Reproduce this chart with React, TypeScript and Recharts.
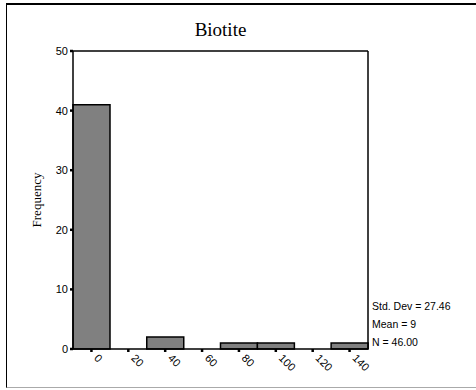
import { BarChart, Bar, XAxis, YAxis } from "recharts";

const categories = ["0", "20", "40", "60", "80", "100", "120", "140"];
const frequencies = [41, 0, 2, 0, 1, 1, 0, 1];
const yTicks = [0, 10, 20, 30, 40, 50];
const stats = ["Std. Dev = 27.46", "Mean = 9", "N = 46.00"];

const data = categories.map((c, i) => ({ bin: c, count: frequencies[i] }));

const sans = "'Liberation Sans', Arial, sans-serif";
const serif = "'Liberation Serif', 'Times New Roman', serif";

function XTick({ x, y, payload }: any) {
  return (
    <g transform={`translate(${x + 5},${y + 2}) rotate(45)`}>
      <text x={0} y={0} textAnchor="start" dominantBaseline="central" fontSize={11} fontFamily={sans} fill="#000">
        {payload.value}
      </text>
    </g>
  );
}

export default function App() {
  return (
    <div style={{ position: "absolute", left: 0, top: 0, width: 476, height: 390, background: "#fff" }}>
      <div
        style={{
          position: "absolute",
          left: 6,
          top: 3,
          width: 470,
          height: 385,
          borderTop: "2px solid #000",
          borderLeft: "1px solid #000",
          borderBottom: "1px solid #aaa",
          boxSizing: "border-box",
        }}
      />
      <div
        style={{
          position: "absolute",
          left: 73,
          width: 295,
          top: 18,
          textAlign: "center",
          fontFamily: serif,
          fontSize: 19,
          lineHeight: "24px",
        }}
      >
        Biotite
      </div>
      <div style={{ position: "absolute", left: 372, top: 297, fontFamily: sans, fontSize: 10.5, lineHeight: "18px" }}>
        {stats.map((s) => (
          <div key={s}>{s}</div>
        ))}
      </div>
      <div style={{ position: "absolute", left: 0, top: 0 }}>
        <BarChart
          width={476}
          height={390}
          data={data}
          margin={{ top: 50, right: 107, bottom: 0, left: 0 }}
          barCategoryGap={0}
        >
          <XAxis
            dataKey="bin"
            height={41}
            interval={0}
            tick={<XTick />}
            tickSize={3}
            tickLine={{ stroke: "#000", strokeWidth: 2.5 }}
            axisLine={{ stroke: "#000", strokeWidth: 1.5 }}
          />
          <XAxis
            xAxisId="top"
            dataKey="bin"
            orientation="top"
            height={1}
            tick={false}
            tickLine={false}
            axisLine={{ stroke: "#000", strokeWidth: 1.5 }}
          />
          <YAxis
            width={73}
            domain={[0, 50]}
            ticks={yTicks}
            interval={0}
            tickSize={3}
            tickLine={{ stroke: "#000", strokeWidth: 2.5 }}
            axisLine={{ stroke: "#000", strokeWidth: 1.5 }}
            tick={{ fontSize: 11, fontFamily: sans, fill: "#000" }}
            label={{
              value: "Frequency",
              angle: -90,
              position: "insideLeft",
              offset: 36,
              style: { fontFamily: serif, fontSize: 13, fill: "#000", textAnchor: "middle" },
            }}
          />
          <YAxis
            yAxisId="right"
            orientation="right"
            width={1}
            type="number"
            domain={[0, 50]}
            tick={false}
            tickLine={false}
            axisLine={{ stroke: "#000", strokeWidth: 1.5 }}
          />
          <Bar dataKey="count" fill="#808080" stroke="#000" strokeWidth={1.5} isAnimationActive={false} />
        </BarChart>
      </div>
    </div>
  );
}
